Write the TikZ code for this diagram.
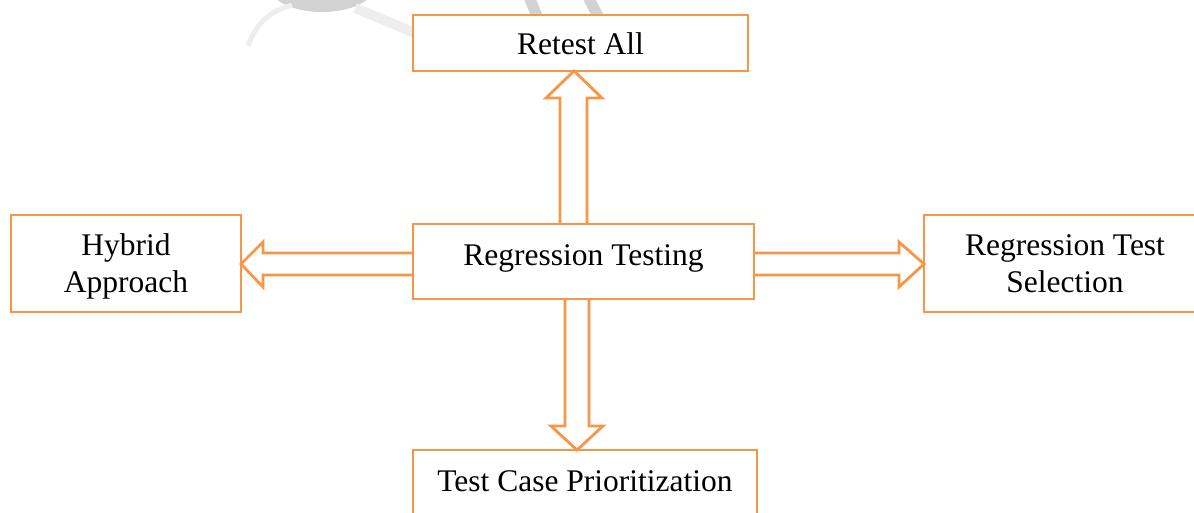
\documentclass[tikz,border=0pt]{standalone}
\usepackage{fontspec}
\setmainfont{Liberation Serif}
\usetikzlibrary{calc}
\definecolor{orng}{HTML}{F79646}
\definecolor{wmdark}{HTML}{D2D2D2}
\definecolor{wmlight}{HTML}{EEEEEE}
\tikzset{
  box/.style={draw=orng, line width=2.8pt, fill=white, inner sep=0pt, outer sep=0pt,
    align=center, font=\fontsize{31.5}{37}\selectfont},
  arr/.style={draw=orng, line width=2.8pt, line join=miter},
  wm/.style={line cap=butt}
}
\begin{document}
\begin{tikzpicture}[x=1pt,y=-1pt]
\clip (0,0) rectangle (1194,512);
\useasboundingbox (0,0) rectangle (1194,512);
% faint watermark fragments
\fill[wmdark] (322,-14) ellipse [x radius=53, y radius=26];
\draw[wm, wmlight, line width=5pt] (248,46) .. controls (256,24) and (268,12) .. (292,5);
\draw[wm, wmlight, line width=10pt] (355,8) -- (420,35);
\draw[wm, wmdark, line width=11pt] (529.5,-2) -- (537,16);
\draw[wm, wmdark, line width=11pt] (588.5,-2) -- (598,16);
% boxes
\node[box, minimum width=335pt, minimum height=56pt, text height=22pt, text depth=0pt] (rt) at (580.5,43) {Retest All};
\node[box, minimum width=341pt, minimum height=75pt, text height=22pt, text depth=15pt] (rg) at (583.5,261.5) {Regression Testing};
\node[box, minimum width=230pt, minimum height=97pt] (hy) at (126,263.5) {\rule{0pt}{27.5pt}Hybrid\\Approach};
\node[box, minimum width=282pt, minimum height=97pt] (rs) at (1065,263.5) {Regression Test\\Selection};
\node[box, minimum width=344pt, minimum height=67pt, text height=22pt, text depth=7pt] (tc) at (585,483.5) {Test Case Prioritization};
% up arrow
\draw[arr] ([xshift=-20.5pt]rt.south |- rg.north)
  -- ([xshift=-20.5pt,yshift=-27pt]rt.south)
  -- ([xshift=-34.5pt,yshift=-27pt]rt.south)
  -- ([xshift=-6.5pt]rt.south)
  -- ([xshift=21.5pt,yshift=-27pt]rt.south)
  -- ([xshift=6.5pt,yshift=-27pt]rt.south)
  -- ([xshift=6.5pt]rt.south |- rg.north);
% down arrow
\draw[arr] ([xshift=-20pt]tc.north |- rg.south)
  -- ([xshift=-20pt,yshift=24pt]tc.north)
  -- ([xshift=-34pt,yshift=24pt]tc.north)
  -- ([xshift=-8pt]tc.north)
  -- ([xshift=18pt,yshift=24pt]tc.north)
  -- ([xshift=4pt,yshift=24pt]tc.north)
  -- ([xshift=4pt]tc.north |- rg.south);
% right arrow
\draw[arr] ([yshift=10.5pt]rs.west -| rg.east)
  -- ([xshift=-25pt,yshift=10.5pt]rs.west)
  -- ([xshift=-25pt,yshift=21.5pt]rs.west)
  -- ([yshift=-0.5pt]rs.west)
  -- ([xshift=-25pt,yshift=-23.5pt]rs.west)
  -- ([xshift=-25pt,yshift=-11.5pt]rs.west)
  -- ([yshift=-11.5pt]rs.west -| rg.east);
% left arrow
\draw[arr] ([yshift=10.5pt]hy.east -| rg.west)
  -- ([xshift=22pt,yshift=10.5pt]hy.east)
  -- ([xshift=22pt,yshift=21.5pt]hy.east)
  -- ([yshift=-0.5pt]hy.east)
  -- ([xshift=22pt,yshift=-23.5pt]hy.east)
  -- ([xshift=22pt,yshift=-11.5pt]hy.east)
  -- ([yshift=-11.5pt]hy.east -| rg.west);
\end{tikzpicture}
\end{document}
